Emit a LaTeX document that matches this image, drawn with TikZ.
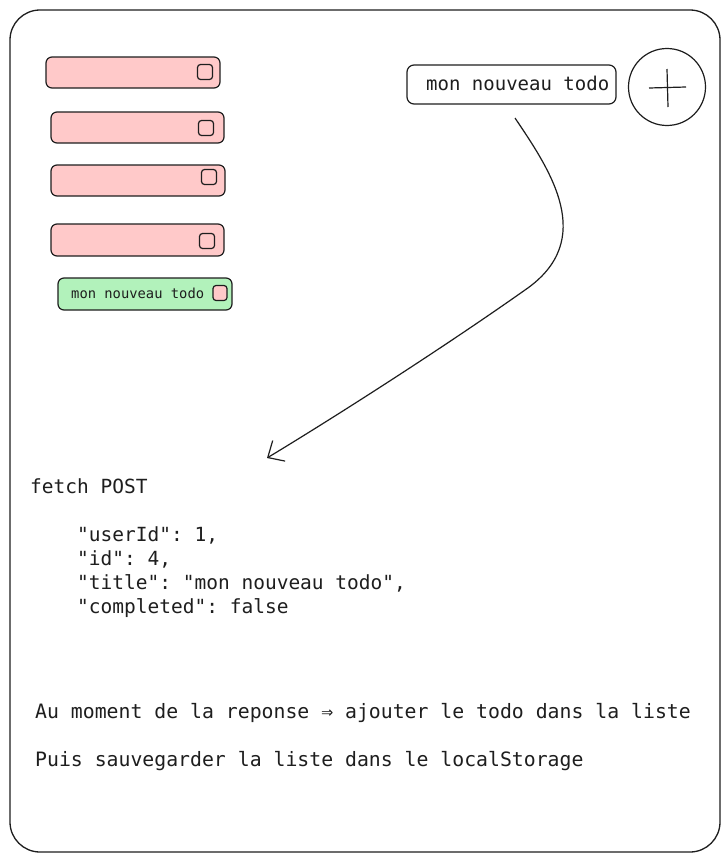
\documentclass[tikz,border=0pt]{standalone}
\usepackage{fontspec}
\setmonofont{DejaVu Sans Mono}
\usetikzlibrary{arrows.meta}
\definecolor{ink}{HTML}{1E1E1E}
\definecolor{pinkf}{HTML}{FFC9C9}
\definecolor{greenf}{HTML}{B2F2BB}
\begin{document}
\begin{tikzpicture}[x=1pt,y=-1pt,
  every node/.style={text=ink,font=\ttfamily},
  frame/.style={draw=ink,line width=1.3pt,rounded corners=30pt},
  todobox/.style={draw=ink,fill=pinkf,line width=1.2pt,rounded corners=6pt},
  donebox/.style={draw=ink,fill=greenf,line width=1.2pt,rounded corners=6pt},
  checkbox/.style={draw=ink,fill=pinkf,line width=1.2pt,rounded corners=3pt,minimum width=15pt,minimum height=15pt,inner sep=0pt},
  inputbox/.style={draw=ink,fill=white,line width=1.2pt,rounded corners=7pt,minimum width=209pt,minimum height=39pt,inner sep=0pt},
  codetext/.style={anchor=west,inner sep=0pt,text height=0.75em,text depth=0.2em,font=\ttfamily\fontsize{19.5}{23}\selectfont},
  flow/.style={draw=ink,line width=1.2pt,-{Straight Barb[length=13pt,width=24pt,line width=1.2pt]}}
]
\useasboundingbox (0,0) rectangle (728,862);
\fill[white] (0,0) rectangle (728,862);
\draw[frame] (10,10) rectangle (720,852);

% pink todo items
\draw[todobox] (46,57) rectangle (220,88);
\node[checkbox] (c1) at (205,72) {};
\draw[todobox] (51,112) rectangle (224,143);
\node[checkbox] (c2) at (206,128) {};
\draw[todobox] (51,165) rectangle (225,196);
\node[checkbox] (c3) at (209,177) {};
\draw[todobox] (51,224) rectangle (224,256);
\node[checkbox] (c4) at (207,241) {};

% green new todo
\draw[donebox] (58,278) rectangle (232,310);
\node[anchor=west,inner sep=0pt,text height=0.75em,text depth=0.2em,font=\ttfamily\fontsize{13.8}{16}\selectfont] (newtxt) at (71,296) {mon nouveau todo};
\node[checkbox,minimum width=14pt,minimum height=15pt] (c5) at (220,293) {};

% input and plus button
\node[inputbox] (input) at (511.5,84.5) {};
\node[codetext,font=\ttfamily\fontsize{19}{23}\selectfont] (inputtxt) at (426,88) {mon nouveau todo};
\node[draw=ink,line width=1.2pt,circle,minimum size=77pt,inner sep=0pt] (plus) at (667,87) {};
\draw[ink,line width=1.2pt] (plus.center) ++(-18,1) -- ++(37,-1);
\draw[ink,line width=1.2pt] (plus.center) ++(0,-18) -- ++(1,38);

% arrow
\coordinate (astart) at (515,118);
\coordinate (aend) at (267,458);
\draw[flow] (astart) .. controls (550,170) and (598,240) .. (525,290) .. controls (440,350) and (330,420) .. (aend);

% code text
\node[codetext] (fetch) at (30,491) {fetch POST};
\node[codetext] (l1) at (77,539) {"userId": 1,};
\node[codetext] (l2) at (77,563) {"id": 4,};
\node[codetext] (l3) at (77,587) {"title": "mon nouveau todo",};
\node[codetext] (l4) at (77,611) {"completed": false};

\node[codetext,font=\ttfamily\fontsize{19.8}{23}\selectfont] (rep) at (35,716) {Au moment de la reponse ⇒ ajouter le todo dans la liste};
\node[codetext,font=\ttfamily\fontsize{19.8}{23}\selectfont] (save) at (35,764) {Puis sauvegarder la liste dans le localStorage};
\end{tikzpicture}
\end{document}
